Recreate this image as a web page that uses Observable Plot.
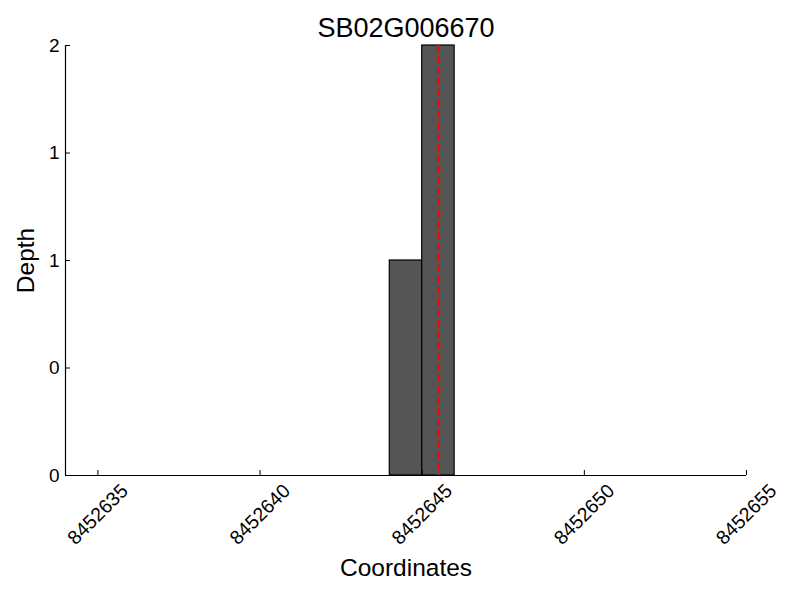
<!DOCTYPE html>
<html>
<head>
<meta charset="utf-8">
<script src="https://cdn.jsdelivr.net/npm/d3@7"></script>
<script src="https://cdn.jsdelivr.net/npm/@observablehq/plot@0.6"></script>
<style>
  html, body { margin: 0; padding: 0; background: #fff; }
  svg { font-family: "Liberation Sans", Arial, Helvetica, sans-serif; }
</style>
</head>
<body>
<div id="chart"></div>
<script>
const title = "SB02G006670";
const xLabel = "Coordinates";
const yLabel = "Depth";
const barStarts = [8452644, 8452645];
const barEnds = [8452645, 8452646];
const barDepths = [1, 2];
const markerPos = [8452645.5];
const xDomain = [8452634, 8452655];
const yDomain = [0, 2];
const xTicks = [8452635, 8452640, 8452645, 8452650, 8452655];
const xTickLabels = ["8452635", "8452640", "8452645", "8452650", "8452655"];
const yTicks = [0, 0.5, 1, 1.5, 2];
const yTickLabels = ["0", "0", "1", "1", "2"];

const bars = barStarts.map((s, i) => ({start: s, end: barEnds[i], depth: barDepths[i]}));
const xTickData = xTicks.map((t, i) => ({x: t, label: xTickLabels[i]}));

const chart = Plot.plot({
  width: 800,
  height: 600,
  marginTop: 45,
  marginLeft: 65,
  marginRight: 54,
  marginBottom: 125,
  style: {fontFamily: '"Liberation Sans", Arial, sans-serif', background: "white"},
  x: {domain: xDomain, nice: false},
  y: {domain: yDomain, nice: false},
  marks: [
    Plot.rectY(bars, {x1: "start", x2: "end", y: "depth", fill: "#555555", stroke: "black", strokeWidth: 1.2}),
    Plot.ruleX(markerPos, {stroke: "red", strokeWidth: 2, strokeDasharray: "7,4"}),
    Plot.ruleY([yDomain[0]], {stroke: "black", strokeWidth: 1.2}),
    Plot.ruleX([xDomain[0]], {stroke: "black", strokeWidth: 1.2}),
    Plot.axisY({ticks: yTicks, tickFormat: (d, i) => yTickLabels[i], tickSize: -5, tickPadding: 11, fontSize: 19, label: null, color: "black"}),
    Plot.axisX({ticks: xTicks, tickFormat: () => "", tickSize: -5, label: null, color: "black"}),
    Plot.text(xTickData, {x: "x", y: () => yDomain[0], text: "label", rotate: -45, dy: 39, fontSize: 19.5, textAnchor: "middle", lineAnchor: "middle", fill: "black"}),
    Plot.text([xLabel], {frameAnchor: "bottom", dy: 93, fontSize: 24.5, textAnchor: "middle", lineAnchor: "middle", fill: "black"}),
    Plot.text([yLabel], {frameAnchor: "left", dx: -39, rotate: -90, fontSize: 24.5, textAnchor: "middle", lineAnchor: "middle", fill: "black"}),
    Plot.text([title], {frameAnchor: "top", dy: -17, fontSize: 27, textAnchor: "middle", lineAnchor: "middle", fill: "black"})
  ]
});
document.getElementById("chart").appendChild(chart);
</script>
</body>
</html>
